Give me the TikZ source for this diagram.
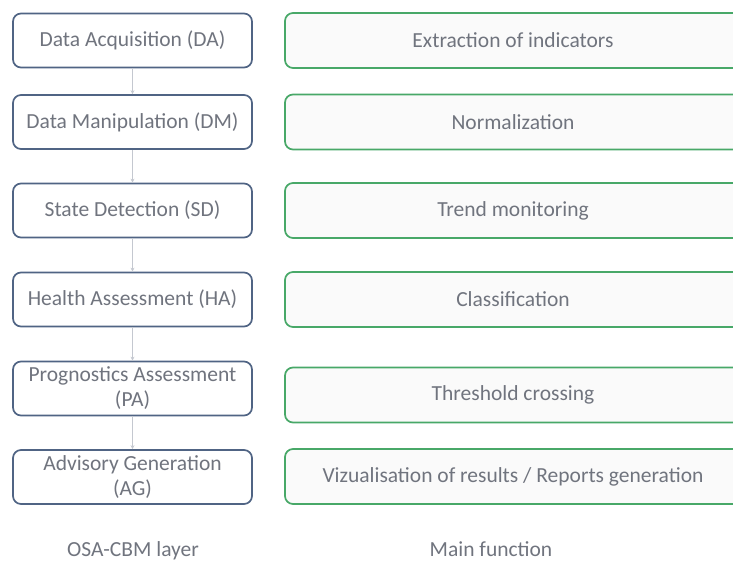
\documentclass[tikz,border=0pt]{standalone}
\usepackage{fontspec}
\setmainfont{Carlito}
\usetikzlibrary{arrows.meta, positioning}
\definecolor{layerblue}{RGB}{80,100,132}
\definecolor{funcgreen}{RGB}{72,168,104}
\definecolor{textgrey}{RGB}{112,116,126}
\definecolor{arrowgrey}{RGB}{196,200,208}
\definecolor{funcfill}{RGB}{250,250,250}

\begin{document}
\begin{tikzpicture}[x=1pt, y=-1pt,
    font=\fontsize{21.5}{25}\selectfont, text=textgrey,
    layerbox/.style={draw=layerblue, line width=1.7pt, rounded corners=8pt, fill=white,
        minimum width=239pt, minimum height=54pt, align=center, inner sep=0pt},
    funcbox/.style={draw=funcgreen, line width=1.7pt, rounded corners=8pt, fill=funcfill,
        minimum width=456pt, minimum height=55pt, inner sep=0pt},
    flowarrow/.style={draw=arrowgrey, line width=1pt, -{Stealth[length=4pt, width=4pt]}}]
                \useasboundingbox (0,0) rectangle (733,561);
                % OSA-CBM layers
                \node[layerbox] (da) at (132.5,40.5) {Data Acquisition (DA)};
                \node[layerbox] (dm) at (132.5,122) {Data Manipulation (DM)};
                \node[layerbox] (sd) at (132.5,210.5) {State Detection (SD)};
                \node[layerbox] (ha) at (132.5,299.5) {Health Assessment (HA)};
                \node[layerbox] (pa) at (132.5,388.5) {Prognostics Assessment\\(PA)};
                \node[layerbox] (ag) at (132.5,477) {Advisory Generation\\(AG)};
                \draw[flowarrow] (da) -- (dm);
                \draw[flowarrow] (dm) -- (sd);
                \draw[flowarrow] (sd) -- (ha);
                \draw[flowarrow] (ha) -- (pa);
                \draw[flowarrow] (pa) -- (ag);
                % main functions
                \node[funcbox] (fda) at (513,40.5) {Extraction of indicators};
                \node[funcbox] (fdm) at (513,122) {Normalization};
                \node[funcbox] (fsd) at (513,210.5) {Trend monitoring};
                \node[funcbox] (fha) at (513,299.5) {Classification};
                \node[funcbox] (fpa) at (513,395) {Threshold crossing};
                \node[funcbox] (fag) at (513,476.5) {Vizualisation of results / Reports generation};
                % column titles
                \node[anchor=base] (layertitle) at (133,556) {OSA-CBM layer};
                \node[anchor=base] (functitle) at (491,556) {Main function};
            \end{tikzpicture}
\end{document}
